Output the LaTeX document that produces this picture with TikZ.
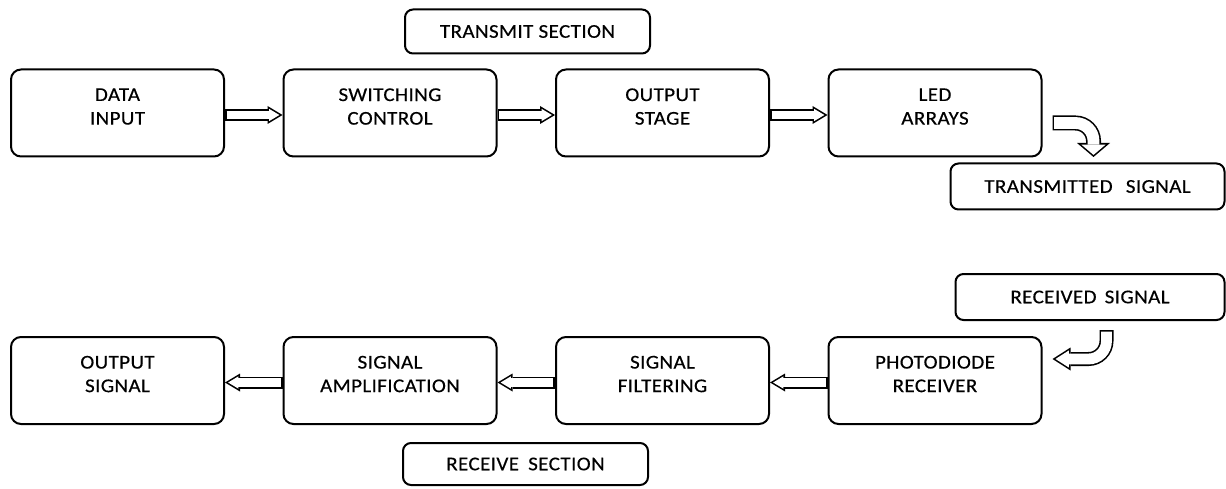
\documentclass[tikz,border=0pt]{standalone}
\usepackage{fontspec}
\setmainfont{Carlito}[FakeStretch=1.08, LetterSpace=2, FakeBold=0.4]
\usetikzlibrary{positioning}
\usetikzlibrary{arrows.meta}

\tikzset{
  block/.style={draw, line width=2pt, rounded corners=10pt, minimum width=213pt,
    minimum height=87pt, align=center, font=\fontsize{19.5}{23.6}\selectfont,
    execute at end node={\rule[-13pt]{0pt}{13pt}}},
  tag/.style={draw, line width=2pt, rounded corners=8pt, minimum height=44pt,
    font=\fontsize{19.5}{23.6}\selectfont},
  flow/.style={line width=12pt,
    -{Triangle[length=15pt 0 0,width=18pt 0 0,line width=0pt 0 0]},
    postaction={draw=white, line width=8.8pt, shorten <=1.6pt, shorten >=3.1pt,
      -{Triangle[length=10.3pt 0 0,width=12.35pt 0 0,line width=0pt 0 0]}}},
  bendflow/.style={line width=15pt,
    -{Triangle[length=14pt 0 0,width=33pt 0 0,line width=0pt 0 0]},
    postaction={draw=white, line width=11.8pt, shorten <=1.6pt, shorten >=2.1pt,
      -{Triangle[length=10.3pt 0 0,width=24.3pt 0 0,line width=0pt 0 0]}}},
  turnflow/.style={line width=14pt,
    -{Triangle[length=18pt 0 0,width=23pt 0 0,line width=0pt 0 0]},
    postaction={draw=white, line width=10.8pt, shorten <=1.6pt, shorten >=3pt,
      -{Triangle[length=13.4pt 0 0,width=17.2pt 0 0,line width=0pt 0 0]}}}
}

\begin{document}
\begin{tikzpicture}[x=1pt, y=1pt]
  \useasboundingbox (0,0) rectangle (1226,488);

  \node[block] at (117.5,375)          (din) {DATA\\INPUT};
  \node[block, right=57.5pt of din]    (swc) {SWITCHING\\CONTROL};
  \node[block, right=57.5pt of swc]    (ost) {OUTPUT\\STAGE};
  \node[block, right=57.5pt of ost]    (led) {LED\\ARRAYS};
  \node[tag, minimum width=245pt, above=14pt of swc, xshift=137.5pt] (txsec) {TRANSMIT SECTION};
  \node[tag, minimum width=274pt, minimum height=46pt, below right=5pt and -93pt of led] (tx) {TRANSMITTED\hspace{8pt} SIGNAL};

  \node[block] at (117.5,107.5)        (outsig) {OUTPUT\\SIGNAL};
  \node[block, right=57.5pt of outsig] (amp)  {SIGNAL\\AMPLIFICATION};
  \node[block, right=57.5pt of amp]    (filt) {SIGNAL\\FILTERING};
  \node[block, right=57.5pt of filt]   (pd)   {PHOTODIODE\\RECEIVER};
  \node[tag, minimum width=269pt, minimum height=46pt, above right=15pt and -88pt of pd] (rx) {RECEIVED\hspace{3pt} SIGNAL};
  \node[tag, minimum width=245pt, minimum height=42pt, below=17pt of amp, xshift=135.5pt] (rxsec) {RECEIVE\hspace{4pt} SECTION};

  \draw[flow] ([yshift=-2pt]din.east) -- ([yshift=-2pt]swc.west);
  \draw[flow] ([yshift=-2pt]swc.east) -- ([yshift=-2pt]ost.west);
  \draw[flow] ([yshift=-2pt]ost.east) -- ([yshift=-2pt]led.west);
  \draw[bendflow] ([xshift=10pt,yshift=-10pt]led.east) -- ++(23,0)
    arc[start angle=90, end angle=0, radius=18] -- ++(0,-16);

  \draw[flow] ([yshift=-2pt]pd.west) -- ([yshift=-2pt]filt.east);
  \draw[flow] ([yshift=-2pt]filt.west) -- ([yshift=-2pt]amp.east);
  \draw[flow] ([yshift=-2pt]amp.west) -- ([yshift=-2pt]outsig.east);
  \draw[turnflow] ([xshift=16.5pt,yshift=-9pt]rx.south) -- ++(0,-11)
    arc[start angle=0, end angle=-90, radius=18] -- ++(-36,0);
\end{tikzpicture}
\end{document}
